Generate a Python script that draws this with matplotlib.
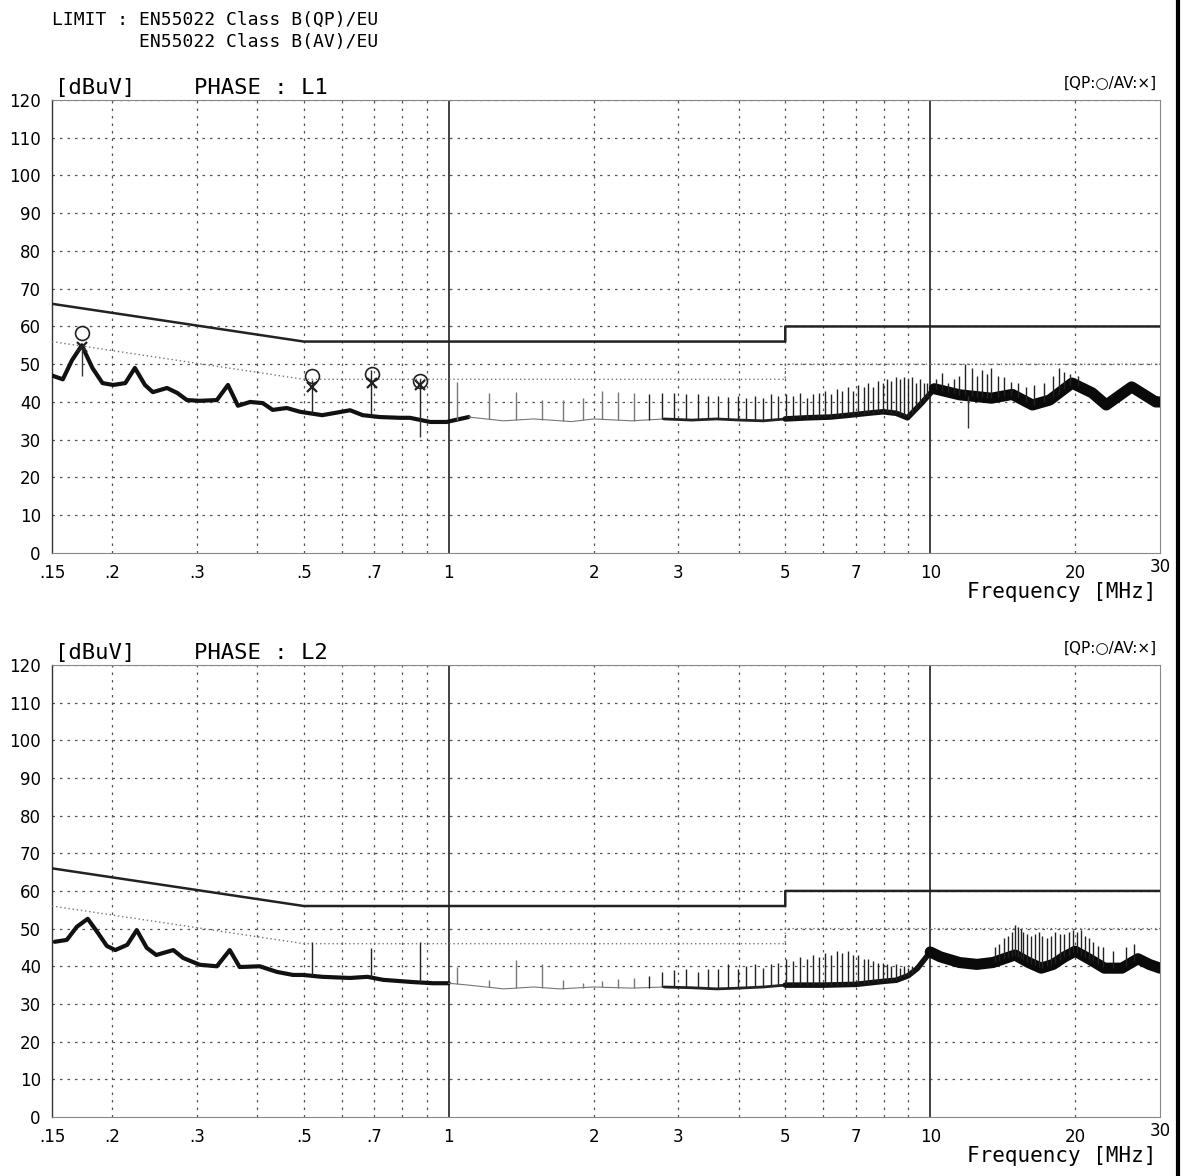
import numpy as np
import matplotlib
matplotlib.use("Agg")
import matplotlib.pyplot as plt

# EN55022 class B limits
qp_lim_f = [0.15, 0.5, 5.0, 5.0, 30.0]
qp_lim_db = [66, 56, 56, 60, 60]
av_lim_f = [0.15, 0.5, 5.0, 5.0, 30.0]
av_lim_db = [56, 46, 46, 50, 50]

# phase L1 trace
l1_freq = [0.150, 0.158, 0.165, 0.173, 0.182, 0.191, 0.201, 0.213, 0.223, 0.234,
           0.243, 0.260, 0.273, 0.286, 0.304, 0.330, 0.348, 0.365, 0.387, 0.411,
           0.431, 0.461, 0.491, 0.546, 0.575, 0.624, 0.663, 0.720, 0.792, 0.831,
           0.915, 0.990, 1.10, 1.30, 1.50, 1.80, 2.00, 2.40, 2.80, 3.20,
           3.60, 4.02, 4.50, 5.00, 5.55, 6.20, 6.80, 7.40, 7.98, 8.50,
           8.97, 9.60, 10.2, 11.5, 13.4, 14.8, 16.3, 17.7, 19.7, 21.7,
           23.2, 26.2, 29.4, 30.0]
l1_level = [47, 46, 51, 55, 49, 45, 44.5, 45, 49, 44.5,
            42.6, 43.7, 42.4, 40.5, 40.3, 40.5, 44.5, 39, 40, 39.7,
            37.9, 38.4, 37.4, 36.5, 37, 37.8, 36.5, 36, 35.8, 35.8,
            34.7, 34.7, 36, 35, 35.5, 34.8, 35.5, 35, 35.5, 35.2,
            35.5, 35.2, 35, 35.5, 35.8, 36, 36.5, 37, 37.4, 37,
            35.8, 39.7, 43.5, 41.9, 41, 42, 39.2, 40.5, 45, 42.4,
            39.2, 44, 40, 40]
l1_spike_freq = [0.52, 0.69, 0.87, 1.04, 1.21, 1.38, 1.56, 1.73, 1.90, 2.08,
                 2.25, 2.42, 2.60, 2.77, 2.94, 3.11, 3.29, 3.46, 3.63, 3.81,
                 3.98, 4.15, 4.33, 4.50, 4.67, 4.84, 5.02, 5.19, 5.36, 5.54,
                 5.71, 5.88, 6.06, 6.23, 6.40, 6.57, 6.75, 6.92, 7.09, 7.27,
                 7.44, 7.61, 7.79, 7.96, 8.13, 8.30, 8.48, 8.65, 8.82, 9.00,
                 9.17, 9.34, 9.52, 9.69, 9.86, 10.3, 10.6, 10.9, 11.2, 11.5,
                 11.8, 12.2, 12.5, 12.8, 13.1, 13.4, 13.8, 14.2, 14.7, 15.2,
                 15.8, 16.4, 17.2, 18.0, 18.5, 19.0, 19.5, 20.3]
l1_spike_top = [45.8, 48.5, 46, 45.3, 42.4, 42.6, 40.5, 40.5, 41, 43,
                42.6, 42.4, 42, 42.4, 42.4, 42, 42, 41.7, 41.7, 41.3,
                41.5, 41, 41.5, 41, 42, 41.5, 42, 41.5, 42.5, 41,
                42, 42.5, 43, 42, 43.5, 43, 44, 43, 44.5, 44,
                45, 44, 45.5, 45, 46, 45.5, 46.5, 46, 46.5, 46,
                46.5, 45, 46, 45, 45, 46, 47.7, 45, 46, 47,
                50, 49, 47, 48.5, 47.5, 49, 47, 46.7, 45.3, 45,
                44, 44.5, 45, 47, 49, 48, 47.5, 47]
l1_dip_freq = [0.173, 0.871, 12.0]
l1_dip_low = [47, 30.7, 33]
l1_qp_freq = [0.173, 0.52, 0.692, 0.871]
l1_qp_level = [58.3, 47, 47.5, 45.5]
l1_av_freq = [0.173, 0.52, 0.692, 0.871]
l1_av_level = [54.5, 44, 45, 44.5]

# phase L2 trace
l2_freq = [0.152, 0.161, 0.169, 0.178, 0.187, 0.195, 0.203, 0.215, 0.225, 0.236,
           0.247, 0.268, 0.281, 0.304, 0.330, 0.351, 0.368, 0.405, 0.440, 0.475,
           0.498, 0.546, 0.624, 0.678, 0.731, 0.844, 0.928, 1.00, 1.10, 1.30,
           1.50, 1.70, 2.00, 2.40, 2.80, 3.20, 3.60, 4.00, 4.50, 5.00,
           6.00, 7.00, 8.00, 8.50, 9.00, 9.40, 10.0, 10.5, 11.5, 12.5,
           13.5, 15.0, 16.0, 17.0, 18.0, 19.0, 20.0, 21.0, 22.0, 23.0,
           25.0, 27.0, 28.5, 30.0]
l2_level = [46.5, 47, 50.5, 52.6, 48.8, 45.4, 44.3, 45.7, 49.6, 44.9,
            43, 44.3, 42.2, 40.4, 40, 44.3, 39.8, 40, 38.5, 37.7,
            37.7, 37.2, 36.9, 37.2, 36.4, 35.8, 35.5, 35.5, 35, 34,
            34.5, 34, 34.5, 34.2, 34.5, 34.3, 34, 34.2, 34.5, 35,
            35, 35.2, 36, 36.3, 37.5, 39.4, 43.8, 42.5, 41, 40.5,
            41, 43, 41, 39.5, 40.5, 42.5, 44, 42.5, 41, 39.5,
            39.5, 42, 40.5, 39.5]
l2_spike_freq = [0.52, 0.69, 0.87, 1.04, 1.21, 1.38, 1.56, 1.73, 1.90, 2.08,
                 2.25, 2.42, 2.60, 2.77, 2.94, 3.11, 3.29, 3.46, 3.63, 3.81,
                 3.98, 4.15, 4.33, 4.50, 4.67, 4.84, 5.02, 5.19, 5.36, 5.54,
                 5.71, 5.88, 6.06, 6.23, 6.40, 6.57, 6.75, 6.92, 7.09, 7.27,
                 7.44, 7.61, 7.79, 7.96, 8.13, 8.30, 8.48, 8.65, 8.82, 9.00,
                 9.17, 13.6, 13.9, 14.2, 14.5, 14.8, 15.0, 15.2, 15.4, 15.6,
                 15.9, 16.2, 16.5, 16.8, 17.1, 17.5, 17.8, 18.2, 18.6, 19.0,
                 19.4, 19.8, 20.2, 20.6, 21.0, 21.4, 21.8, 22.3, 22.8, 24.0,
                 25.5, 26.5]
l2_spike_top = [46.5, 44.9, 46.5, 39.8, 36.3, 41.6, 40.7, 36.3, 35.5, 36,
                36.5, 37, 37.5, 38.5, 39, 39.4, 38.5, 39.4, 39.4, 40.7,
                39.4, 40, 40.7, 39.5, 40.5, 41, 42, 41.5, 42.5, 42,
                43, 42.5, 43.5, 43, 44, 43.5, 44, 43, 43, 42,
                42, 41.5, 41, 41, 40.5, 40, 40.5, 39.5, 40, 39.5,
                40, 45, 46, 47.5, 48, 49, 51, 50.5, 50, 49,
                48.5, 48, 48.5, 49, 48, 47.5, 48, 49, 48.5, 48.5,
                49, 49.5, 49, 49.5, 48, 47.5, 46.5, 45.5, 45, 44,
                45, 46]

xtick_vals = [0.15, 0.2, 0.3, 0.5, 0.7, 1, 2, 3, 5, 7, 10, 20, 30]
xtick_labels = [".15", ".2", ".3", ".5", ".7", "1", "2", "3", "5", "7", "10", "20", "30"]
minor_f = [0.2, 0.3, 0.4, 0.5, 0.6, 0.7, 0.8, 0.9, 2, 3, 4, 5, 6, 7, 8, 9, 20]

plt.rcParams['font.family'] = ['DejaVu Sans']

fig = plt.figure(figsize=(11.89, 11.76), dpi=100)


def draw_panel(ax, freq, level, sp_f, sp_top, phase, dip_f=None, dip_low=None,
               qp=None, av=None):
    ax.set_xscale('log')
    ax.set_xlim(0.15, 30)
    ax.set_ylim(0, 120)
    # grid
    for y in range(10, 121, 10):
        ax.axhline(y, color='#555555', lw=0.9, ls=(0, (2, 4)), zorder=1)
    for f in minor_f:
        ax.axvline(f, color='#555555', lw=0.9, ls=(0, (2, 4)), zorder=1)
    ax.axvline(1, color='#333333', lw=1.3, zorder=1)
    ax.axvline(10, color='#333333', lw=1.3, zorder=1)
    # limits
    ax.plot(qp_lim_f, qp_lim_db, color='#222222', lw=1.8, zorder=3)
    ax.plot(av_lim_f, av_lim_db, color='#777777', lw=1.0, ls=(0, (1, 2)), zorder=3)
    # trace, width varies with how the recorder filled in the band
    freq = np.array(freq)
    level = np.array(level)
    segs = [(0.15, 1.0, 3.0, '#111111'), (1.0, 2.5, 0.8, '#777777'),
            (2.5, 5.0, 2.0, '#222222'), (5.0, 9.7, 4.0, '#111111'),
            (9.7, 30.0, 8.0, '#0a0a0a')]
    for lo, hi, lw, c in segs:
        idx = np.where((freq >= lo) & (freq < hi))[0]
        i0 = idx[0]
        i1 = min(idx[-1] + 2, len(freq))
        ax.plot(freq[i0:i1], level[i0:i1], color=c, lw=lw,
                solid_joinstyle='round', solid_capstyle='round', zorder=4)
    sp_f = np.array(sp_f)
    base = np.interp(np.log10(sp_f), np.log10(freq), level)
    sp_col = np.where((sp_f > 1.0) & (sp_f < 2.5), '#777777', '#222222')
    ax.vlines(sp_f, base, sp_top, colors=sp_col, lw=1.0, zorder=4)
    if dip_f is not None:
        dbase = np.interp(np.log10(dip_f), np.log10(freq), level)
        ax.vlines(dip_f, dip_low, dbase, colors='#333333', lw=1.0, zorder=4)
    if qp is not None:
        ax.plot(qp[0], qp[1], 'o', ms=10, mfc='none', mec='#222222', mew=1.2, zorder=5)
        ax.plot(av[0], av[1], 'x', ms=7, color='#222222', mew=1.6, zorder=5)
    # axes cosmetics
    ax.set_yticks(range(0, 121, 10))
    ax.set_yticklabels([str(v) for v in range(0, 121, 10)], fontsize=12)
    ax.set_xticks(xtick_vals)
    ax.set_xticklabels(xtick_labels, fontsize=12)
    ax.xaxis.set_minor_locator(matplotlib.ticker.NullLocator())
    ax.tick_params(length=0, pad=8)
    for lab in ax.get_xticklabels():
        if lab.get_text() == "30":
            lab.set_y(0.013)
    for s in ['top', 'right', 'bottom']:
        ax.spines[s].set_color('#888888')
        ax.spines[s].set_linewidth(0.8)
    ax.spines['left'].set_color('#333333')
    ax.spines['left'].set_linewidth(1.0)
    ax.text(0.003, 1.005, "[dBuV]", transform=ax.transAxes, fontsize=16,
            family='DejaVu Sans Mono', va='bottom', ha='left')
    ax.text(0.128, 1.005, "PHASE : " + phase, transform=ax.transAxes, fontsize=16,
            family='DejaVu Sans Mono', va='bottom', ha='left')
    ax.text(0.997, 1.02, "[QP:○/AV:×]", transform=ax.transAxes, fontsize=11,
            va='bottom', ha='right')
    ax.text(0.997, -0.065, "Frequency [MHz]", transform=ax.transAxes, fontsize=15,
            family='DejaVu Sans Mono', va='top', ha='right')


ax1 = fig.add_axes([0.0437, 0.5298, 0.9319, 0.3852])
draw_panel(ax1, l1_freq, l1_level, l1_spike_freq, l1_spike_top, "L1",
           l1_dip_freq, l1_dip_low, (l1_qp_freq, l1_qp_level), (l1_av_freq, l1_av_level))
ax2 = fig.add_axes([0.0437, 0.0502, 0.9319, 0.3844])
draw_panel(ax2, l2_freq, l2_level, l2_spike_freq, l2_spike_top, "L2")

fig.text(52 / 1189, 1 - 20 / 1176, "LIMIT : EN55022 Class B(QP)/EU", fontsize=13,
         family='DejaVu Sans Mono', va='center', ha='left')
fig.text(52 / 1189, 1 - 42 / 1176, "        EN55022 Class B(AV)/EU", fontsize=13,
         family='DejaVu Sans Mono', va='center', ha='left')
# scanner edge on the right
fig.add_artist(matplotlib.lines.Line2D([0.991, 0.991], [0.0, 1.0], color='black', lw=3))

fig.savefig("out.png", dpi=100)
